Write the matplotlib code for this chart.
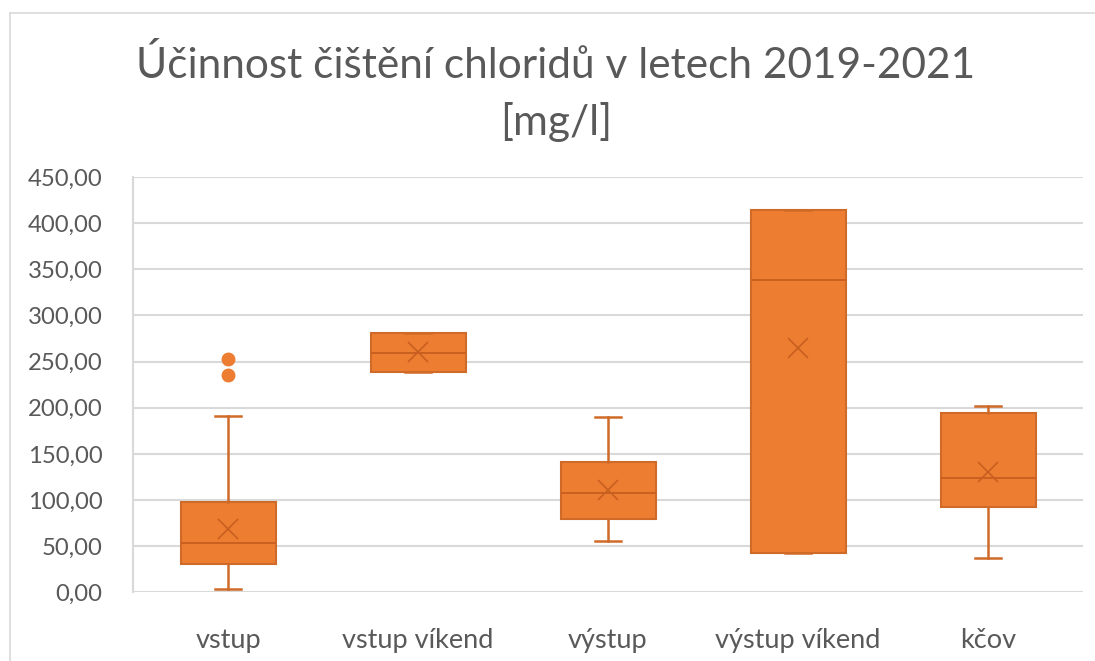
import matplotlib
matplotlib.use("Agg")
import matplotlib.pyplot as plt
from matplotlib.lines import Line2D

categories = ["vstup", "vstup víkend", "výstup", "výstup víkend", "kčov"]
whisker_low = [3.5, 238.2, 55.5, 42.9, 36.8]
q1 = [30.6, 238.2, 79.4, 42.9, 92.0]
median = [53.7, 259.8, 107.9, 338.1, 123.4]
mean = [68.5, 260.0, 110.8, 264.9, 130.6]
q3 = [98.1, 281.0, 141.4, 413.9, 193.8]
whisker_high = [191.2, 281.0, 189.8, 413.9, 202.0]
outliers = [[252.6, 235.3], [], [], [], []]
yticks = [0, 50, 100, 150, 200, 250, 300, 350, 400, 450]

plt.rcParams['font.family'] = ['Lato', 'DejaVu Sans']
txt = '#595959'
fill = '#ED7D31'
edge = '#D06A28'

fig = plt.figure(figsize=(10.95, 6.61), dpi=100)
ax = fig.add_axes([133/1095, 1-592.3/661, (1083-133)/1095, (592.3-177)/661])

stats = []
for i, c in enumerate(categories):
    stats.append(dict(label=c, whislo=whisker_low[i], q1=q1[i], med=median[i],
                      mean=mean[i], q3=q3[i], whishi=whisker_high[i], fliers=outliers[i]))

pos = list(range(len(categories)))
ax.bxp(stats, positions=pos, widths=0.5, patch_artist=True, showmeans=True,
       showfliers=True, capwidths=0.14,
       boxprops=dict(facecolor=fill, edgecolor=edge, linewidth=1.5),
       whiskerprops=dict(color=edge, linewidth=1.8),
       capprops=dict(color=edge, linewidth=1.8),
       medianprops=dict(color='#C85F20', linewidth=1.3),
       meanprops=dict(marker='x', markeredgecolor='#C85F20', markersize=15, markeredgewidth=1.2),
       flierprops=dict(marker='o', markerfacecolor=fill, markeredgecolor=fill, markersize=9))

ax.set_xlim(-0.5, len(categories) - 0.5)
ax.set_ylim(0, 450)
ax.set_yticks(yticks)
ax.set_yticklabels([f"{v:.2f}".replace('.', ',') for v in yticks], fontsize=17.2, color=txt)
ax.set_xticks(pos)
ax.set_xticklabels(categories, fontsize=19.5, color=txt)
ax.tick_params(axis='y', length=0, pad=22)
ax.tick_params(axis='x', length=0, pad=26)
ax.yaxis.grid(True, color='#D9D9D9', linewidth=1.5)
ax.set_axisbelow(True)
for s in ['top', 'right', 'bottom']:
    ax.spines[s].set_visible(False)
ax.spines['left'].set_color('#D9D9D9')
ax.spines['left'].set_linewidth(1.5)

fig.text(556/1095, 1-65/661, "Účinnost čištění chloridů v letech 2019-2021", ha='center', va='center',
         fontsize=30.5, color=txt)
fig.text(556/1095, 1-122/661, "[mg/l]", ha='center', va='center', fontsize=30.5, color=txt)

# chart outer border (top and left visible)
fig.add_artist(Line2D([10/1095, 1], [1-13/661, 1-13/661], transform=fig.transFigure, color='#D9D9D9', linewidth=1.2))
fig.add_artist(Line2D([10/1095, 10/1095], [0, 1-13/661], transform=fig.transFigure, color='#D9D9D9', linewidth=1.2))

fig.savefig("out.png", dpi=100)
